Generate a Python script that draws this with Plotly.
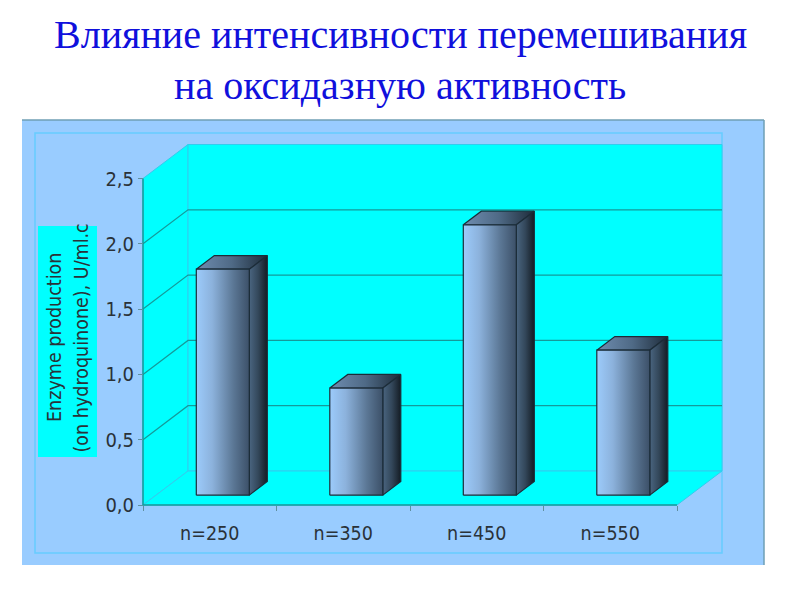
import plotly.graph_objects as go

categories = ["n=250", "n=350", "n=450", "n=550"]
values = [1.73, 0.82, 2.07, 1.11]
y_ticks = [0.0, 0.5, 1.0, 1.5, 2.0, 2.5]
title_lines = ["Влияние интенсивности перемешивания", "на оксидазную активность"]
axis_lines = ["Enzyme production", "(on hydroquinone), U/ml.c"]

W, H = 800, 600
L, R, T, B = 143, 677, 178.5, 505      # front plane of the chart box
L0, R0, T0, B0 = 140, 725, 141, 508    # plot area, big enough to hold the depth
PX_X = (R - L) / 4
PX_Y = (B - T) / 2.5
DX = 45 / PX_X       # wall depth in axis units
DY = 34 / PX_Y
BAR_HALF = 26.5 / PX_X
BAR_D0, BAR_D1 = 0.29, 0.69

WALL = "#00ffff"
EDGE = "#33ccee"
GRID = "#159a9a"
PANEL = "#99ccff"
BAR_LINE = "#1c2c38"
INK = "#2a3238"
TITLE = "#1010dc"
SANS = "DejaVu Sans Condensed, DejaVu Sans"


def proj(x, v, d):
    return x + d * DX, v + d * DY


def poly(corners, **kw):
    xs, ys = zip(*[proj(*c) for c in corners + corners[:1]])
    return go.Scatter(x=xs, y=ys, mode="lines", fill="toself",
                      hoverinfo="skip", showlegend=False, **kw)


def px(x):
    return (x - L0) / (R0 - L0)


def py(y):
    return (B0 - y) / (B0 - T0)


fig = go.Figure()
ymax = y_ticks[-1]
nx = len(categories)

# walls and floor
edge = dict(color=EDGE, width=1)
fig.add_trace(poly([(0, 0, 0), (0, ymax, 0), (0, ymax, 1), (0, 0, 1)], fillcolor=WALL, line=edge))
fig.add_trace(poly([(0, 0, 1), (0, ymax, 1), (nx, ymax, 1), (nx, 0, 1)], fillcolor=WALL, line=edge))
fig.add_trace(poly([(0, 0, 0), (nx, 0, 0), (nx, 0, 1), (0, 0, 1)], fillcolor=WALL, line=edge))

# gridlines
gx, gy = [], []
for t in y_ticks[1:-1]:
    for c in [(0, t, 0), (0, t, 1), (nx, t, 1)]:
        a, b = proj(*c)
        gx.append(a)
        gy.append(b)
    gx.append(None)
    gy.append(None)
fig.add_trace(go.Scatter(x=gx, y=gy, mode="lines", line=dict(color=GRID, width=1.2),
                         hoverinfo="skip", showlegend=False))

# front axis edges
fig.add_trace(go.Scatter(x=[0, 0, nx], y=[ymax, 0, 0], mode="lines",
                         line=dict(color=GRID, width=1.5), hoverinfo="skip", showlegend=False))

# bars
for i, v in enumerate(values):
    x0 = i + 0.5 - BAR_HALF
    x1 = i + 0.5 + BAR_HALF
    line = dict(color=BAR_LINE, width=1.2)
    fig.add_trace(poly([(x0, v, BAR_D0), (x1, v, BAR_D0), (x1, v, BAR_D1), (x0, v, BAR_D1)],
                       line=line, fillcolor="#4a6580",
                       fillgradient=dict(type="horizontal",
                                         colorscale=[[0, "#6f8db0"], [0.5, "#4f6a86"], [1, "#1e2c3a"]])))
    fig.add_trace(poly([(x1, 0, BAR_D0), (x1, v, BAR_D0), (x1, v, BAR_D1), (x1, 0, BAR_D1)],
                       line=line, fillcolor="#2c3e50",
                       fillgradient=dict(type="horizontal",
                                         colorscale=[[0, "#4a6580"], [0.5, "#33475a"], [1, "#141c24"]])))
    fig.add_trace(poly([(x0, 0, BAR_D0), (x1, 0, BAR_D0), (x1, v, BAR_D0), (x0, v, BAR_D0)],
                       line=line, fillcolor="#6a88a8",
                       fillgradient=dict(type="horizontal",
                                         colorscale=[[0, "#9ccbfb"], [0.3, "#8cb2dc"],
                                                     [0.7, "#5b7795"], [1, "#3c5068"]])))

shapes = [
    dict(type="rect", xref="paper", yref="paper", x0=px(22), x1=px(764), y0=py(565), y1=py(120),
         fillcolor=PANEL, line=dict(width=0), layer="below"),
    dict(type="line", xref="paper", yref="paper", x0=px(22), x1=px(764), y0=py(120), y1=py(120),
         line=dict(color="#6f9fb5", width=1.5), layer="below"),
    dict(type="line", xref="paper", yref="paper", x0=px(764), x1=px(764), y0=py(120), y1=py(565),
         line=dict(color="#6f9fb5", width=1.5), layer="below"),
    dict(type="rect", xref="paper", yref="paper", x0=px(35), x1=px(722), y0=py(553), y1=py(133),
         fillcolor="rgba(0,0,0,0)", line=dict(color="#66ccff", width=1.5), layer="below"),
    dict(type="rect", xref="paper", yref="paper", x0=px(38), x1=px(97), y0=py(457), y1=py(226),
         fillcolor=WALL, line=dict(width=0), layer="below"),
]

annotations = [
    dict(text=title_lines[0], xref="paper", yref="paper", x=px(400), y=py(35), showarrow=False,
         xanchor="center", yanchor="middle",
         font=dict(family="Liberation Serif", size=40, color=TITLE)),
    dict(text=title_lines[1], xref="paper", yref="paper", x=px(400), y=py(86), showarrow=False,
         xanchor="center", yanchor="middle",
         font=dict(family="Liberation Serif", size=40, color=TITLE)),
    dict(text=axis_lines[0], xref="paper", yref="paper", x=px(54), y=py(338), showarrow=False,
         textangle=-90, xanchor="center", yanchor="middle",
         font=dict(family=SANS, size=19.5, color=INK)),
    dict(text=axis_lines[1], xref="paper", yref="paper", x=px(80.5), y=py(338), showarrow=False,
         textangle=-90, xanchor="center", yanchor="middle",
         font=dict(family=SANS, size=19.5, color=INK)),
]

fig.update_layout(
    width=W, height=H,
    margin=dict(l=L0, r=W - R0, t=T0, b=H - B0, pad=0),
    paper_bgcolor="white", plot_bgcolor="rgba(0,0,0,0)",
    separators=", ",
    shapes=shapes, annotations=annotations, showlegend=False,
    xaxis=dict(range=[(L0 - L) / PX_X, (R0 - L) / PX_X], anchor="free", position=py(B),
               tickvals=[i + 0.5 for i in range(nx)], ticktext=categories,
               ticks="", showgrid=False, zeroline=False, showline=False, fixedrange=True,
               ticklabelstandoff=14,
               tickfont=dict(family=SANS, size=19.5, color=INK),
               minor=dict(tickvals=list(range(nx + 1)), ticks="outside", ticklen=5,
                          tickcolor="#5f8f9f", tickwidth=1, showgrid=False)),
    yaxis=dict(range=[(B - B0) / PX_Y, (B - T0) / PX_Y], anchor="free", position=px(L),
               tickvals=y_ticks, tickformat=".1f", ticks="outside",
               ticklen=5, tickcolor="#5f8f9f", showgrid=False, zeroline=False,
               showline=False, fixedrange=True,
               tickfont=dict(family=SANS, size=20, color=INK)),
)

fig.write_html("out.html", config={"displayModeBar": False},
               post_script="document.body.style.margin='0';document.body.style.overflow='hidden';")
